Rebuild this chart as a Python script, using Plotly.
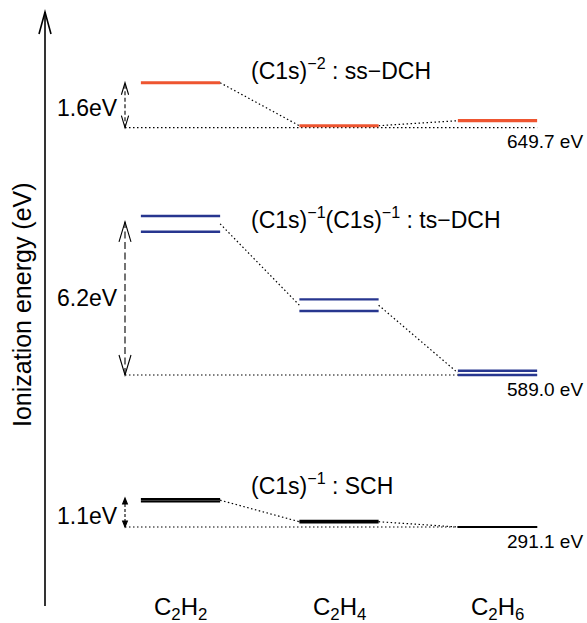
import plotly.graph_objects as go

W, H = 587, 623

# ---------------- data ----------------
molecules = ["C<sub>2</sub>H<sub>2</sub>", "C<sub>2</sub>H<sub>4</sub>", "C<sub>2</sub>H<sub>6</sub>"]

# ionization energies (eV); two close-lying components where a pair of lines is drawn
ss_dch = [651.30, 649.77, 649.95]
ts_dch_upper = [595.44, 592.06, 589.17]
ts_dch_lower = [594.80, 591.59, 589.00]
sch_upper = [292.16, 291.33, 291.10]
sch_lower = [292.07, 291.27, 291.10]

ref_energies = [649.7, 589.0, 291.1]
ref_labels = ["649.7 eV", "589.0 eV", "291.1 eV"]
gap_values = [1.6, 6.2, 1.1]
gap_labels = ["1.6eV", "6.2eV", "1.1eV"]
state_titles = [
    "(C1s)<sup>−2</sup> : ss−DCH",
    "(C1s)<sup>−1</sup>(C1s)<sup>−1</sup> : ts−DCH",
    "(C1s)<sup>−1</sup> : SCH",
]
axis_title = "Ionization energy (eV)"

# ---------------- style / layout ----------------
FONT = "Liberation Sans, Arial, Helvetica, sans-serif"
X0_PX, DX_PX = 180.5, 158.5          # pixel centre of first molecule, spacing
HW = 0.25                            # half width of a level line (x units)
XA = (125 - X0_PX) / DX_PX           # x of the gap arrows


def px_to_x(px):
    return (px - X0_PX) / DX_PX


def pap(px, py):
    return px / W, 1 - py / H


groups = [
    dict(levels=[ss_dch], color="#EE5530", lw=3.2, axis="y", base_px=127.7, scale=28.1,
         dash="4px,2.5px", head=(12, 3.6, False), title_py=69, lbl_shift=-3),
    dict(levels=[ts_dch_upper, ts_dch_lower], color="#27368F", lw=2.4, axis="y2", base_px=375.0,
         scale=24.7, dash="7px,3.5px", head=(20, 6, False), title_py=218, lbl_shift=0),
    dict(levels=[sch_upper, sch_lower], color="#000000", lw=2.2, axis="y3", base_px=527.0,
         scale=26.4, dash="3px,2px", head=(6, 2.4, True), title_py=484, lbl_shift=-4),
]

fig = go.Figure()
shapes = []
annotations = []
dot = "1.5px,2.5px"

for k, g in enumerate(groups):
    E0 = ref_energies[k]
    ax = g["axis"]
    n = len(molecules)
    means = [sum(s[i] for s in g["levels"]) / len(g["levels"]) for i in range(n)]

    # dotted reference line
    fig.add_trace(go.Scatter(x=[XA, (n - 1) + HW], y=[E0, E0], yaxis=ax, mode="lines",
                             line=dict(color="black", width=1.2, dash=dot),
                             hoverinfo="skip", showlegend=False))
    # dotted connectors
    cx, cy = [], []
    for i in range(n - 1):
        cx += [i + HW, i + 1 - HW, None]
        cy += [means[i], means[i + 1], None]
    fig.add_trace(go.Scatter(x=cx, y=cy, yaxis=ax, mode="lines",
                             line=dict(color="black", width=1.2, dash=dot),
                             hoverinfo="skip", showlegend=False))
    # dashed gap arrow shaft
    top = E0 + gap_values[k]
    fig.add_trace(go.Scatter(x=[XA, XA], y=[E0, top], yaxis=ax, mode="lines",
                             line=dict(color="black", width=1.1, dash=g["dash"]),
                             hoverinfo="skip", showlegend=False))
    # level lines
    for series in g["levels"]:
        lx, ly = [], []
        for i, e in enumerate(series):
            lx += [i - HW, i + HW, None]
            ly += [e, e, None]
        fig.add_trace(go.Scatter(x=lx, y=ly, yaxis=ax, mode="lines",
                                 line=dict(color=g["color"], width=g["lw"]),
                                 hoverinfo="skip", showlegend=False))
    # arrow heads (pixel-sized, anchored on data)
    hh, hw, filled = g["head"]
    for yv, sgn in ((top, 1), (E0, -1)):
        if filled:
            path = f"M0,0 L{-hw},{-sgn*hh} L{hw},{-sgn*hh} Z"
        else:
            path = f"M{-hw},{-sgn*hh} L0,0 L{hw},{-sgn*hh}"
        shapes.append(dict(type="path", xref="x", yref=ax, xsizemode="pixel", ysizemode="pixel",
                           xanchor=XA, yanchor=yv, path=path,
                           line=dict(color="black", width=1.1),
                           fillcolor="black" if filled else None))
    # gap label
    annotations.append(dict(x=px_to_x(120), y=(E0 + top) / 2, xref="x", yref=ax, text=gap_labels[k],
                            xanchor="right", yanchor="middle", showarrow=False, yshift=g["lbl_shift"],
                            font=dict(family=FONT, size=23, color="black")))
    # reference energy label
    annotations.append(dict(x=585 / W, y=E0, xref="paper", yref=ax, text=ref_labels[k],
                            xanchor="right", yanchor="middle", showarrow=False, yshift=-14,
                            font=dict(family=FONT, size=19, color="black")))
    # state title
    tx, ty = pap(249, g["title_py"])
    annotations.append(dict(x=tx, y=ty, xref="paper", yref="paper", text=state_titles[k],
                            xanchor="left", yanchor="middle", showarrow=False,
                            font=dict(family=FONT, size=23, color="black")))

# molecule labels
for i, m in enumerate(molecules):
    annotations.append(dict(x=i, y=1 - 608 / H, xref="x", yref="paper", text=m, showarrow=False,
                            xanchor="center", yanchor="middle",
                            font=dict(family=FONT, size=24, color="black")))

# axis title
ax_x, ax_y = pap(22, 305)
annotations.append(dict(x=ax_x, y=ax_y, xref="paper", yref="paper", text=axis_title, textangle=-90,
                        showarrow=False, xanchor="center", yanchor="middle",
                        font=dict(family=FONT, size=25, color="black")))

# vertical energy axis with open arrow head
a0 = pap(45, 606)
a1 = pap(45, 12)
shapes.append(dict(type="line", xref="paper", yref="paper", x0=a0[0], y0=a0[1], x1=a1[0], y1=a1[1],
                   line=dict(color="black", width=1.6)))
l, t, r = pap(39, 34), pap(45, 12), pap(51, 34)
shapes.append(dict(type="path", xref="paper", yref="paper",
                   path=f"M{l[0]},{l[1]} L{t[0]},{t[1]} L{r[0]},{r[1]}",
                   line=dict(color="black", width=1.6)))


def yrange(E0, base_px, scale):
    return [E0 - (H - base_px) / scale, E0 + base_px / scale]


layout_axes = {}
for k, g in enumerate(groups):
    name = "yaxis" if g["axis"] == "y" else "yaxis" + g["axis"][1:]
    d = dict(range=yrange(ref_energies[k], g["base_px"], g["scale"]), visible=False,
             domain=[0, 1], anchor="x", fixedrange=True)
    if g["axis"] != "y":
        d["overlaying"] = "y"
    layout_axes[name] = d

fig.update_layout(
    width=W, height=H,
    margin=dict(l=0, r=0, t=0, b=0),
    paper_bgcolor="white", plot_bgcolor="white",
    xaxis=dict(range=[px_to_x(0), px_to_x(W)], visible=False, fixedrange=True),
    shapes=shapes, annotations=annotations,
    showlegend=False,
    **layout_axes,
)

fig.write_html(
    "out.html",
    config={"displayModeBar": False},
    post_script="document.body.style.margin='0';document.body.style.padding='0';"
                "document.body.style.overflow='hidden';",
)
